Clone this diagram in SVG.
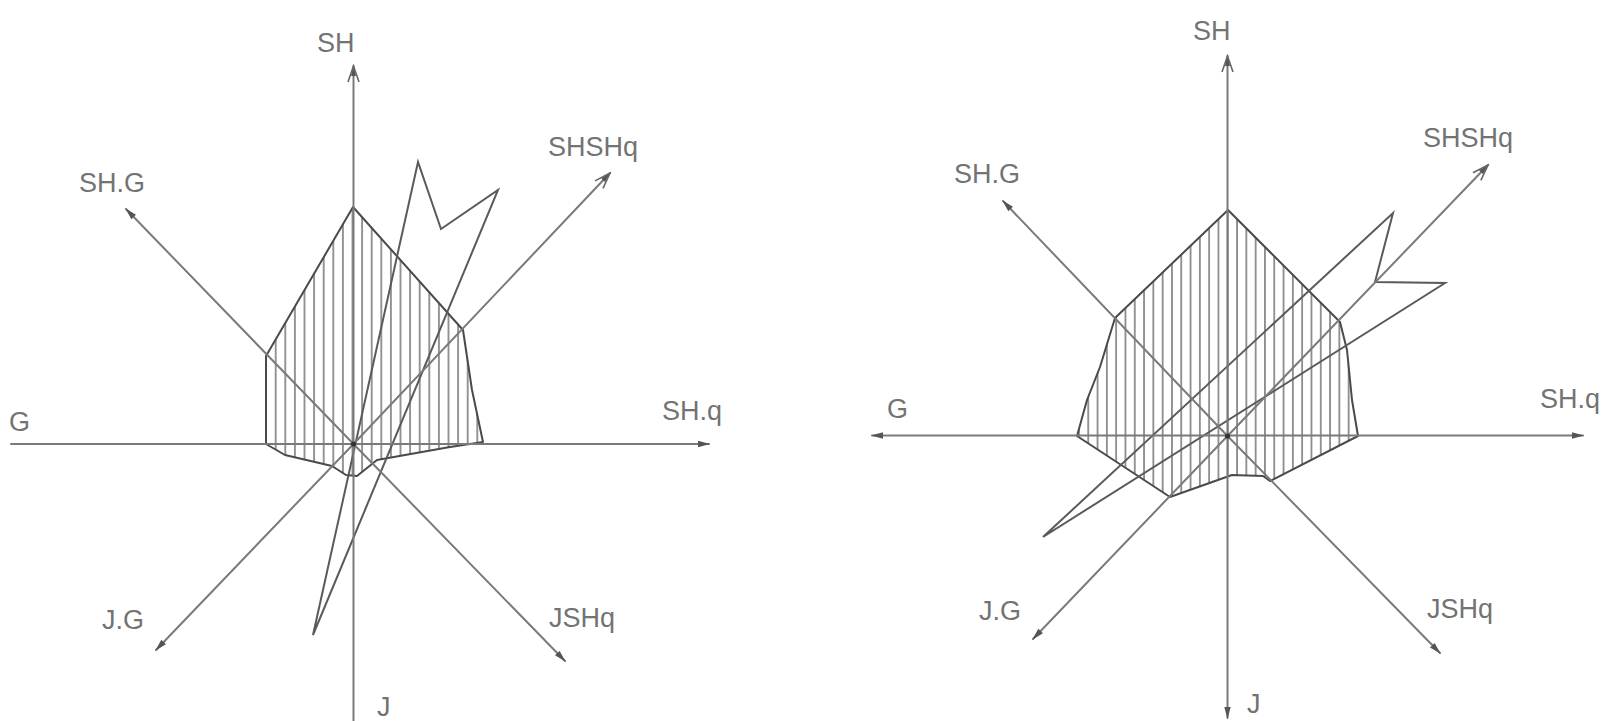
<svg xmlns="http://www.w3.org/2000/svg" width="1602" height="721" viewBox="0 0 1602 721">
<style>
.ax{stroke:#7a7a7a;stroke-width:2;fill:none;stroke-linecap:round}
.outline{stroke:#4a4a4a;stroke-width:2;fill:none;stroke-linejoin:round}
.zig{stroke:#5a5a5a;stroke-width:2;fill:none;stroke-linejoin:miter}
.lbl{font-family:"Liberation Sans",Arial,sans-serif;font-size:27px;fill:#737373}
</style>
<defs>
<marker id="tip" markerUnits="userSpaceOnUse" viewBox="-16 -6 18 12" markerWidth="18" markerHeight="12" refX="0" refY="0" orient="auto">
<path d="M1,0 L-11,-3.2 L-11,3.2 Z" fill="#555"/>
</marker>
<marker id="open" markerUnits="userSpaceOnUse" viewBox="-18 -7 20 14" markerWidth="20" markerHeight="14" refX="0" refY="0" orient="auto">
<path d="M1,0 L-10,-2.5 L-10,2.5 Z" fill="#555"/>
<path d="M-16,-5.5 L0,0 L-16,5.5" fill="none" stroke="#666" stroke-width="1.6"/>
</marker>
<pattern id="hatchL" patternUnits="userSpaceOnUse" x="347.7" y="0" width="9.6" height="20">
<line x1="4.8" y1="0" x2="4.8" y2="20" stroke="#5e5e5e" stroke-width="1.3"/>
</pattern>
<pattern id="hatchR" patternUnits="userSpaceOnUse" x="1223.1" y="0" width="9.3" height="20">
<line x1="4.65" y1="0" x2="4.65" y2="20" stroke="#5e5e5e" stroke-width="1.3"/>
</pattern>
</defs>
<rect width="1602" height="721" fill="#fff"/>

<!-- LEFT DIAGRAM -->
<g id="left-hatched-region">
<polygon class="outline" style="fill:url(#hatchL)" points="353,207 463,330 472,390 483,442 450,447 377,460 357,476 346,475 332,466 285,455 266,444 266,356"/>
</g>
<g id="left-zigzag">
<polygon class="zig" points="313,635 418,162 441,229 498,190"/>
</g>
<g id="left-connectors">
<line class="ax" x1="353.5" y1="721" x2="353.5" y2="66" marker-end="url(#open)"/>
<line class="ax" x1="11" y1="444" x2="709" y2="444" marker-end="url(#tip)"/>
<line class="ax" x1="353.5" y1="444" x2="126" y2="209" marker-end="url(#tip)"/>
<line class="ax" x1="353.5" y1="444" x2="610" y2="173" marker-end="url(#open)"/>
<line class="ax" x1="353.5" y1="444" x2="156" y2="650" marker-end="url(#tip)"/>
<line class="ax" x1="353.5" y1="444" x2="565" y2="661" marker-end="url(#tip)"/>
<circle cx="353.5" cy="444" r="2.6" fill="#333"/>
</g>
<g id="left-label-SH"><text class="lbl" x="317" y="52">SH</text></g>
<g id="left-label-SHG"><text class="lbl" x="79" y="192">SH.G</text></g>
<g id="left-label-SHSHq"><text class="lbl" x="548" y="156">SHSHq</text></g>
<g id="left-label-G"><text class="lbl" x="9" y="431">G</text></g>
<g id="left-label-SHq"><text class="lbl" x="662" y="420">SH.q</text></g>
<g id="left-label-JG"><text class="lbl" x="102" y="629">J.G</text></g>
<g id="left-label-JSHq"><text class="lbl" x="549" y="627">JSHq</text></g>
<g id="left-label-J"><text class="lbl" x="377" y="716">J</text></g>

<!-- RIGHT DIAGRAM -->
<g id="right-hatched-region">
<polygon class="outline" style="fill:url(#hatchR)" points="1228,210 1340,322 1347,350 1352,400 1358,436 1270,481 1263,476 1232,475 1170,497 1077,436 1087,400 1100,367 1115,318"/>
</g>
<g id="right-zigzag">
<polygon class="zig" points="1043,537 1393,213 1375,282 1445,283"/>
</g>
<g id="right-connectors">
<line class="ax" x1="1227.5" y1="436" x2="1227.5" y2="56" marker-end="url(#open)"/>
<line class="ax" x1="1227.5" y1="436" x2="1227.5" y2="718" marker-end="url(#tip)"/>
<line class="ax" x1="1227.5" y1="435.5" x2="1583" y2="435.5" marker-end="url(#tip)"/>
<line class="ax" x1="1227.5" y1="435.5" x2="872" y2="435.5" marker-end="url(#tip)"/>
<line class="ax" x1="1227.5" y1="436" x2="1003" y2="201" marker-end="url(#tip)"/>
<line class="ax" x1="1227.5" y1="436" x2="1488" y2="165" marker-end="url(#open)"/>
<line class="ax" x1="1227.5" y1="436" x2="1033" y2="639" marker-end="url(#tip)"/>
<line class="ax" x1="1227.5" y1="436" x2="1440" y2="653" marker-end="url(#tip)"/>
<circle cx="1227.5" cy="436" r="2.6" fill="#333"/>
</g>
<g id="right-label-SH"><text class="lbl" x="1193" y="40">SH</text></g>
<g id="right-label-SHG"><text class="lbl" x="954" y="183">SH.G</text></g>
<g id="right-label-SHSHq"><text class="lbl" x="1423" y="147">SHSHq</text></g>
<g id="right-label-G"><text class="lbl" x="887" y="418">G</text></g>
<g id="right-label-SHq"><text class="lbl" x="1540" y="408">SH.q</text></g>
<g id="right-label-JG"><text class="lbl" x="979" y="620">J.G</text></g>
<g id="right-label-JSHq"><text class="lbl" x="1427" y="618">JSHq</text></g>
<g id="right-label-J"><text class="lbl" x="1247" y="713">J</text></g>
</svg>
